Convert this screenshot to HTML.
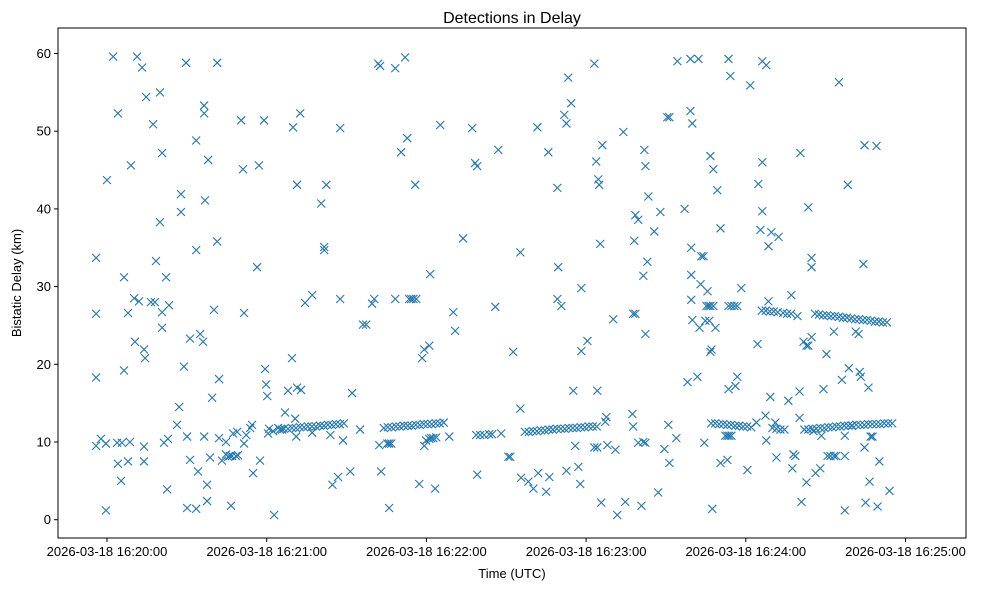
<!DOCTYPE html>
<html><head><meta charset="utf-8"><style>
html,body{margin:0;padding:0;background:#fff;}
svg{display:block;font-family:"Liberation Sans","DejaVu Sans",sans-serif;}
</style></head><body>
<svg id="chart" width="986" height="590" viewBox="0 0 986 590" xmlns="http://www.w3.org/2000/svg">
<rect width="986" height="590" fill="#fff"/>
<text x="512" y="23" font-size="16" text-anchor="middle">Detections in Delay</text>
<text x="512" y="578" font-size="13" text-anchor="middle">Time (UTC)</text>
<text transform="translate(21,283) rotate(-90)" font-size="13" text-anchor="middle">Bistatic Delay (km)</text>
<g id="axes"></g>
</svg>
<script>
const xTickSeconds = [0, 60, 120, 180, 240, 300];
const xTickLabels = ["2026-03-18 16:20:00","2026-03-18 16:21:00","2026-03-18 16:22:00","2026-03-18 16:23:00","2026-03-18 16:24:00","2026-03-18 16:25:00"];
const yTicks = [0, 10, 20, 30, 40, 50, 60];
const yTickLabels = ["0","10","20","30","40","50","60"];
// seconds after 16:20:00, bistatic delay km
const detectionTimes = [
-4.1,-4.1,-4.1,-4.1,-2.3,-0.4,0,-0.4,2.3,4.1,4.1,3.8,5.6,5.3,6.4,6.4,7.9,8.6,7.9,9.0,10.2,10.5,11.3,12.0,13.2,13.9,14.3,13.9,13.9,14.7,17.3,16.5,18.0,18.4,19.9,19.9,20.7,20.7,20.7,21.4,22.2,22.6,23.3,22.9,26.3,27.1,27.8,27.8,28.9,29.7,30.1,30.1,31.2,31.2,33.5,33.5,33.5,34.2,35.0,36.1,36.5,36.5,36.8,36.5,38.0,37.6,37.6,38.7,39.5,40.2,41.4,41.4,42.1,42.1,43.2,44.7,45.5,46.2,47.0,48.5,49.2,44.7,46.6,47.4,48.9,50.4,51.1,51.5,51.5,52.3,53.8,54.5,54.9,56.4,57.1,57.5,59.0,59.4,59.8,60.2,60.5,60.9,62.8,62.4,64.3,65.8,66.9,68.0,69.5,69.9,70.7,71.1,71.4,71.4,72.6,72.9,74.4,77.1,77.1,80.5,81.6,81.6,82.4,83.9,84.7,86.8,87.6,87.6,88.7,91.4,92.1,95.1,96.2,97.4,99.6,100.4,101.9,102.6,102.3,103.0,105.3,106.0,106.8,106.0,108.3,108.3,110.5,112.0,112.8,113.5,114.3,115.1,116.2,115.8,117.3,118.4,119.2,121.1,121.4,119.2,119.9,121.1,121.8,122.6,123.7,123.3,125.2,128.6,130.1,130.8,133.8,137.2,138.3,139.1,139.1,138.7,140.2,141.7,143.6,144.7,147.0,145.9,148.1,150.8,151.5,152.6,155.3,155.3,155.6,158.3,160.2,161.7,162.0,165.0,165.8,166.2,169.2,169.2,169.5,170.7,171.8,172.6,173.3,174.4,172.6,175.2,175.9,177.1,177.8,178.2,178.2,180.5,183.1,183.8,184.6,184.9,184.2,183.1,184.2,185.3,185.7,187.2,187.6,188.0,186.1,190.2,191.0,191.7,194.0,194.7,197.4,197.7,198.1,198.5,199.6,197.7,198.5,199.6,201.5,202.3,200.8,201.5,201.9,202.3,202.3,203.0,203.4,205.6,207.1,207.9,209.4,210.5,211.3,210.9,211.3,213.9,214.3,217.0,218.1,219.2,219.5,219.5,219.2,219.9,219.5,219.9,222.2,221.8,223.0,222.6,223.3,224.1,224.4,224.8,225.2,226.0,226.7,227.8,225.6,226.3,226.7,227.1,226.7,227.8,227.4,228.6,229.3,230.5,230.5,232.3,233.1,233.8,234.6,233.1,233.5,233.5,234.6,235.7,236.8,233.5,234.2,236.1,236.8,238.3,240.6,241.7,244.0,244.4,244.7,245.5,246.2,246.2,246.2,247.4,247.7,247.7,248.5,248.5,249.2,249.6,251.1,251.5,252.3,256.0,257.1,257.5,257.9,258.6,259.4,260.2,260.2,260.5,260.9,261.7,262.8,262.8,263.5,263.5,264.7,264.7,264.7,265.4,266.2,268.0,269.2,268.4,270.3,270.7,271.8,273.1,273.9,273.1,275.0,276.1,277.2,277.2,277.2,278.3,278.7,279.8,281.3,282.4,282.8,283.2,284.2,284.6,284.6,285.0,286.1,286.9,287.6,286.5,289.1,289.5,290.2,294.0,
65,66.5,68,69.5,71,72.5,74,75.5,77,78.5,80,81.5,83,84.5,86,87.5,89,
104,105.5,107,108.5,110,111.5,113,114.5,116,117.5,119,120.5,122,123.5,125,126.5,
157,158.5,160,161.5,163,164.5,166,167.5,169,170.5,172,173.5,175,176.5,178,179.5,181,182.5,184,
227,228.5,230,231.5,233,234.5,236,237.5,239,240.5,242,
250,251.5,253,254.5,262,263.5,265,266.5,268,269.5,271,272.5,274,275.5,277,278.5,280,281.5,283,284.5,286,287.5,289,290.5,292,293.5,295,
246,247.5,249,250.5,252,254,255.5,257,266,267.5,269,270.5,272,273.5,275,276.5,278,279.5,281,282.5,284,285.5,287,288.5,290,291.5,293
];
const detectionDelays = [
33.7,26.5,18.3,9.5,10.4,9.8,43.7,1.2,59.6,52.3,7.2,9.9,9.9,5.0,31.2,19.2,26.6,10.0,7.5,45.6,28.5,22.9,59.6,28.1,58.2,21.9,20.8,9.4,7.5,54.4,50.9,28.0,28.0,33.3,55.0,38.3,47.2,26.7,24.7,9.9,31.2,3.9,27.6,10.4,12.2,14.5,41.9,39.6,19.7,58.8,10.7,1.5,23.3,7.7,34.7,48.8,1.4,6.2,23.9,22.9,52.3,53.3,41.1,10.7,46.3,4.5,2.4,8.0,15.7,27.0,58.8,35.8,18.1,10.5,7.6,8.4,8.1,8.2,8.2,8.2,8.3,10.0,1.8,11.1,11.3,51.4,45.1,26.6,9.8,10.9,11.8,12.2,6.0,32.5,45.6,7.6,51.4,19.4,17.4,15.9,11.1,11.7,0.6,11.4,11.8,11.6,13.8,16.6,20.8,50.5,13.0,10.7,43.1,17.0,52.3,16.7,27.9,28.9,11.2,40.7,35.1,34.7,43.1,10.9,4.5,5.5,50.4,28.4,10.2,6.2,16.3,11.6,25.1,25.1,27.8,28.4,58.7,58.4,9.6,6.2,9.8,9.8,9.8,1.5,28.4,58.1,47.3,59.5,49.1,28.4,28.4,28.4,28.4,43.1,4.6,20.8,21.9,22.4,31.6,9.5,10.2,10.4,10.5,10.5,10.6,4.0,50.8,10.7,26.7,24.3,36.2,50.4,45.9,45.5,5.8,10.9,10.9,10.9,11.0,11.0,47.6,27.4,11.1,8.1,8.1,21.6,34.4,14.3,5.4,4.9,4.0,50.5,6.0,3.6,47.3,5.5,28.4,42.7,32.5,27.5,52.1,51.0,56.9,53.6,6.3,16.6,9.5,6.8,4.6,21.7,29.8,23.0,58.7,46.1,43.8,43.1,16.6,9.3,9.3,35.5,2.2,12.6,13.2,9.6,48.2,25.8,9.0,0.6,49.9,2.3,13.6,12.0,35.9,39.2,38.6,26.5,26.5,9.9,10.0,9.9,1.8,31.4,47.6,45.5,23.9,33.2,41.6,37.1,3.5,39.6,9.1,51.8,51.8,12.2,7.3,10.5,59.0,40.0,17.7,59.3,35.0,31.5,52.6,51.0,28.3,25.7,59.3,18.4,30.3,24.7,33.9,33.9,9.9,25.6,27.5,27.5,27.5,27.5,29.4,25.6,21.6,21.9,46.8,45.1,1.4,24.7,42.4,7.3,37.5,10.8,10.8,10.8,10.8,7.7,59.3,27.5,27.5,27.5,27.5,16.8,57.1,17.2,18.4,29.8,6.4,55.9,12.5,22.6,43.2,37.3,59.0,46.0,39.7,13.4,10.2,58.5,28.1,35.2,15.8,37.0,12.5,8.0,36.4,15.3,28.9,6.6,8.4,8.2,26.2,13.1,16.5,47.2,2.3,22.9,22.4,4.8,40.2,22.4,23.5,33.7,32.5,11.4,6.0,6.6,16.8,10.8,21.3,8.2,8.2,24.2,8.2,8.2,56.3,18.0,8.2,1.2,10.8,43.1,19.5,12.1,24.2,23.9,19.0,18.4,32.9,48.2,9.3,2.2,17.0,10.7,10.7,4.9,48.1,1.7,7.5,3.7,
11.6,11.7,11.7,11.8,11.8,11.9,11.9,12.0,12.0,12.0,12.1,12.1,12.2,12.2,12.3,12.3,12.4,
11.8,11.9,11.9,12.0,12.0,12.1,12.1,12.1,12.2,12.2,12.3,12.3,12.3,12.4,12.4,12.5,
11.3,11.3,11.4,11.4,11.5,11.5,11.6,11.6,11.7,11.7,11.7,11.8,11.8,11.8,11.9,11.9,12.0,12.0,12.0,
12.4,12.4,12.3,12.3,12.2,12.2,12.1,12.1,12.0,12.0,11.9,
11.8,11.7,11.6,11.6,11.6,11.6,11.7,11.7,11.8,11.8,11.9,11.9,12.0,12.0,12.1,12.1,12.1,12.2,12.2,12.2,12.3,12.3,12.3,12.3,12.4,12.4,12.4,
26.9,26.9,26.8,26.8,26.7,26.6,26.5,26.5,26.5,26.4,26.3,26.3,26.2,26.2,26.1,26.0,26.0,25.9,25.8,25.8,25.7,25.7,25.6,25.5,25.5,25.4,25.4
];

const L=58,R=966,T=28,B=538;
function xScale(t){return 107 + t*(159.7/60);}
function yScale(d){return 519.7 - d*7.77;}
const NS="http://www.w3.org/2000/svg";
const g=document.getElementById('axes');
function mk(tag,attrs){const e=document.createElementNS(NS,tag);for(const k in attrs)e.setAttribute(k,attrs[k]);return e;}

const pts=mk('g',{});


g.appendChild(pts);
const n=Math.min(detectionTimes.length,detectionDelays.length);
for(let i=0;i<n;i++){
  const x=xScale(detectionTimes[i]), y=yScale(detectionDelays[i]);
  const p=mk('path',{d:`M${x-4},${y-4}L${x+4},${y+4}M${x-4},${y+4}L${x+4},${y-4}`,stroke:'#1f77b4','stroke-width':'1.1',fill:'none'});
  
  
  pts.appendChild(p);
}

const frame=mk('rect',{x:L,y:T,width:R-L,height:B-T,fill:'none',stroke:'#000','stroke-width':'1'});


g.appendChild(frame);

yTicks.forEach((v,i)=>{
  const y=yScale(v);
  const tk=mk('line',{x1:L-4,x2:L,y1:y,y2:y,stroke:'#000'});
  
  
  g.appendChild(tk);
  const tx=mk('text',{x:L-7,y:y+4.5,'font-size':'13','text-anchor':'end'});
  
  
  tx.textContent=yTickLabels[i];
  g.appendChild(tx);
});
xTickSeconds.forEach((v,i)=>{
  const x=xScale(v);
  const tk=mk('line',{x1:x,x2:x,y1:B,y2:B+4,stroke:'#000'});
  
  
  g.appendChild(tk);
  const tx=mk('text',{x:x,y:B+18,'font-size':'13','text-anchor':'middle'});
  
  
  tx.textContent=xTickLabels[i];
  g.appendChild(tx);
});
</script>
</body></html>
